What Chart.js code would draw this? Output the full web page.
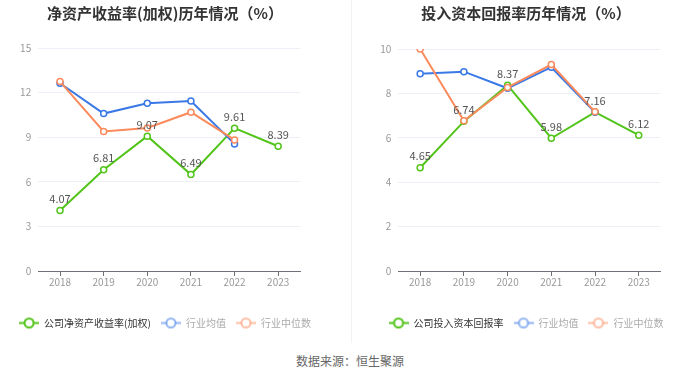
<!DOCTYPE html>
<html>
<head>
<meta charset="utf-8">
<script src="https://cdn.jsdelivr.net/npm/chart.js@4.4.0/dist/chart.umd.min.js"></script>
<style>
  html, body { margin: 0; padding: 0; background: #fff; }
  #wrap { position: relative; width: 700px; height: 378px; overflow: hidden; }
  .box { position: absolute; top: 0; width: 350px; height: 345px; }
  #sep { position: absolute; left: 351px; top: 0; width: 1px; height: 343px; background: #f2f2f2; }
  #source { position: absolute; left: 0; width: 700px; top: 352px; text-align: center;
    font: 12px "Noto Sans CJK SC", sans-serif; color: #666; }
</style>
</head>
<body>
<div id="wrap">
  <div class="box" style="left:0"><canvas id="roe"></canvas></div>
  <div id="sep"></div>
  <div class="box" style="left:350px"><canvas id="roic"></canvas></div>
  <div id="source">数据来源：恒生聚源</div>
</div>
<script>
// data
const years = ['2018', '2019', '2020', '2021', '2022', '2023'];

const roeCompany = [4.07, 6.81, 9.07, 6.49, 9.61, 8.39];
const roeIndustryAvg = [12.63, 10.59, 11.29, 11.43, 8.55, null];
const roeIndustryMedian = [12.74, 9.39, 9.62, 10.68, 8.82, null];

const roicCompany = [4.65, 6.74, 8.37, 5.98, 7.16, 6.12];
const roicIndustryAvg = [8.88, 8.98, 8.23, 9.18, 7.15, null];
const roicIndustryMedian = [10.0, 6.77, 8.27, 9.30, 7.17, null];

const GREEN = '#52c41a';
const BLUE = '#3a78e6';
const ORANGE = '#fb8a5c';
const FONT = '"Noto Sans CJK SC", sans-serif';

// little "-o-" marker for the legend
function legendIcon(color, alpha) {
  const c = document.createElement('canvas');
  c.width = 20; c.height = 13;
  const g = c.getContext('2d');
  g.globalAlpha = alpha;
  g.strokeStyle = color;
  g.lineWidth = 2;
  g.beginPath(); g.moveTo(0, 6.5); g.lineTo(20, 6.5); g.stroke();
  g.globalAlpha = 1;
  g.fillStyle = '#fff';
  g.beginPath(); g.arc(10, 6.5, 4.5, 0, Math.PI * 2); g.fill();
  g.globalAlpha = alpha;
  g.stroke();
  return c;
}

const valueLabels = {
  id: 'valueLabels',
  afterDatasetsDraw(chart) {
    const ctx = chart.ctx;
    const ds = chart.data.datasets[0];
    const meta = chart.getDatasetMeta(0);
    ctx.save();
    ctx.font = '11px ' + FONT;
    ctx.fillStyle = '#555';
    ctx.textAlign = 'center';
    ctx.textBaseline = 'bottom';
    meta.data.forEach((pt, i) => {
      ctx.fillText(ds.data[i].toFixed(2), pt.x, pt.y - 6);
    });
    ctx.restore();
  }
};

function series(label, data, color, order) {
  return {
    label: label,
    data: data,
    borderColor: color,
    backgroundColor: '#fff',
    borderWidth: 2,
    pointRadius: 3,
    pointBorderWidth: 1.5,
    pointBackgroundColor: '#fff',
    pointBorderColor: color,
    tension: 0,
    order: order
  };
}

function makeChart(id, title, names, company, avg, median, yMax, yStep, padLeft, padRight, yWidth, rightSpace, titleGap) {
  const icons = [legendIcon(GREEN, 1), legendIcon(BLUE, 0.55), legendIcon(ORANGE, 0.55)];
  const textColors = ['#333', '#aaa', '#aaa'];
  return new Chart(document.getElementById(id), {
    type: 'line',
    data: {
      labels: years,
      datasets: [
        series(names[0], company, GREEN, 3),
        series(names[1], avg, BLUE, 2),
        series(names[2], median, ORANGE, 1)
      ]
    },
    options: {
      responsive: true,
      maintainAspectRatio: false,
      animation: false,
      layout: { padding: { left: padLeft, right: padRight, top: 0, bottom: 7 } },
      plugins: {
        title: {
          display: true,
          text: title,
          color: '#333',
          font: { family: FONT, size: 15, weight: 'bold' },
          padding: { top: 4, bottom: titleGap }
        },
        legend: {
          position: 'bottom',
          labels: {
            usePointStyle: true,
            pointStyleWidth: 20,
            padding: 10,
            font: { family: FONT, size: 10 },
            generateLabels(chart) {
              return chart.data.datasets.map((d, i) => ({
                text: d.label,
                pointStyle: icons[i],
                fontColor: textColors[i],
                strokeStyle: d.borderColor,
                fillStyle: '#fff',
                lineWidth: 0,
                hidden: false,
                datasetIndex: i
              }));
            }
          }
        },
        tooltip: { enabled: false }
      },
      scales: {
        x: {
          offset: true,
          afterFit(scale) { scale.height = 37; },
          grid: { display: true, drawOnChartArea: false, offset: false, color: '#6e7079', tickLength: 5 },
          border: { color: '#6e7079' },
          ticks: { color: '#999', font: { family: FONT, size: 10 }, padding: 0 }
        },
        y: {
          min: 0,
          max: yMax,
          afterFit(scale) { scale.width = yWidth; },
          grid: { color: '#eceff5', drawTicks: false },
          border: { display: false },
          ticks: { stepSize: yStep, color: '#999', font: { family: FONT, size: 10 }, padding: 7 }
        },
        // empty axis on the right, only keeps the blank margin
        spacer: {
          position: 'right',
          afterFit(scale) { scale.width = rightSpace; },
          grid: { display: false },
          border: { display: false },
          ticks: { display: false }
        }
      }
    },
    plugins: [valueLabels]
  });
}

makeChart('roe', '净资产收益率(加权)历年情况（%）',
  ['公司净资产收益率(加权)', '行业均值', '行业中位数'],
  roeCompany, roeIndustryAvg, roeIndustryMedian, 15, 3, 0, 20, 38.2, 30, 26);

makeChart('roic', '投入资本回报率历年情况（%）',
  ['公司投入资本回报率', '行业均值', '行业中位数'],
  roicCompany, roicIndustryAvg, roicIndustryMedian, 10, 2, 2, 0, 46.3, 39.4, 27);
</script>
</body>
</html>
